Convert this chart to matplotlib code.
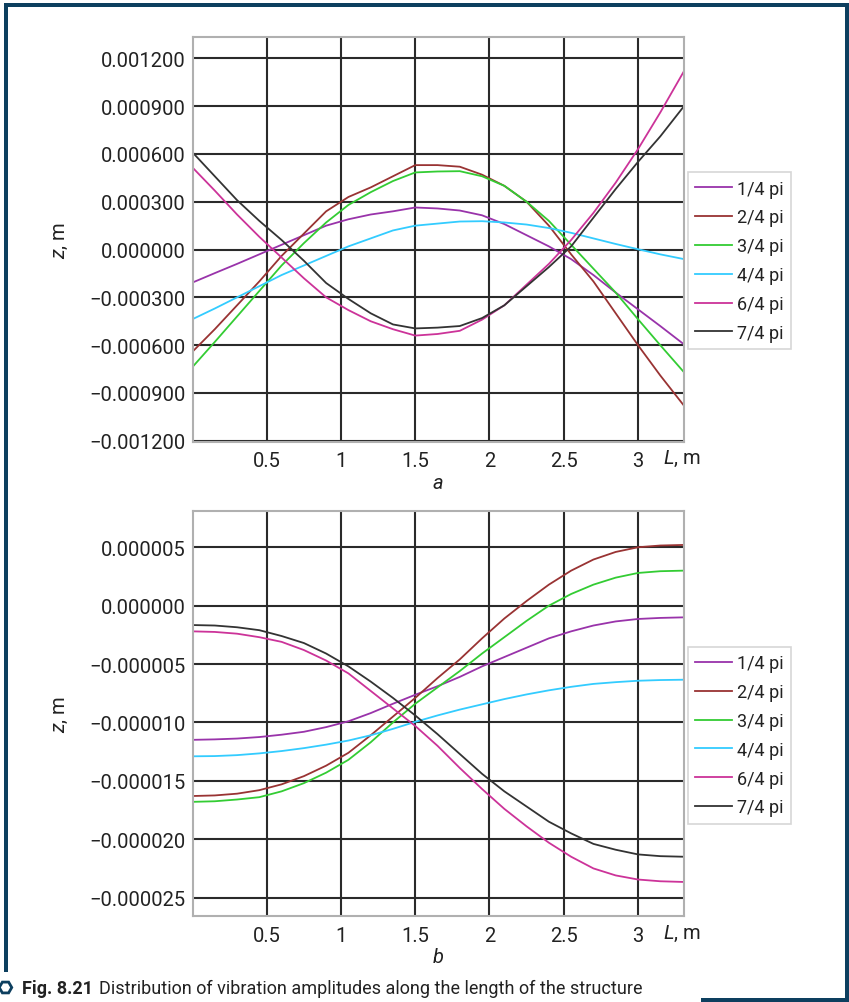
import matplotlib
matplotlib.use("Agg")
import matplotlib.pyplot as plt
from matplotlib.lines import Line2D
from matplotlib.patches import Rectangle

plt.rcParams['font.family'] = ['Roboto', 'DejaVu Sans']
plt.rcParams['mathtext.fontset'] = 'custom'
plt.rcParams['mathtext.it'] = 'Roboto:italic'
plt.rcParams['mathtext.rm'] = 'Roboto'

# distance along the structure, m
x = [0, 0.15, 0.3, 0.45, 0.6, 0.75, 0.9, 1.05, 1.2, 1.35, 1.5, 1.65,
     1.8, 1.95, 2.1, 2.25, 2.4, 2.55, 2.7, 2.85, 3.0, 3.15, 3.31]

labels = ["1/4 pi", "2/4 pi", "3/4 pi", "4/4 pi", "6/4 pi", "7/4 pi"]
colors = ["#9933aa", "#993333", "#33cc33", "#33ccff", "#cc3399", "#333333"]

# panel a, z in m
a_14 = [-0.000207, -0.000148, -0.00009, -0.00003, 0.00003, 0.00009, 0.00015, 0.00019,
        0.00022, 0.00024, 0.000264, 0.000258, 0.000245, 0.000215, 0.00016, 0.00009,
        0.00002, -0.00006, -0.00016, -0.00027, -0.000375, -0.00048, -0.000595]
a_24 = [-0.000641, -0.0005, -0.00035, -0.0002, -0.00004, 0.0001, 0.00024, 0.00033,
        0.00039, 0.00046, 0.00053, 0.00053, 0.00052, 0.00047, 0.0004, 0.0003,
        0.00015, -0.00003, -0.0002, -0.0004, -0.0006, -0.00079, -0.00098]
a_34 = [-0.000737, -0.00058, -0.00042, -0.00026, -0.0001, 0.00004, 0.00017, 0.00028,
        0.00036, 0.00043, 0.000484, 0.00049, 0.000492, 0.00046, 0.0004, 0.0003,
        0.00018, 0.00003, -0.00012, -0.00027, -0.000437, -0.0006, -0.00077]
a_44 = [-0.000437, -0.00037, -0.0003, -0.00023, -0.00016, -0.0001, -0.00004, 0.00002,
        0.00007, 0.00012, 0.00015, 0.000163, 0.000176, 0.000178, 0.00017, 0.000157,
        0.000135, 0.000105, 0.00007, 0.000035, 0.000002, -0.00003, -0.00006]
a_64 = [0.000515, 0.00037, 0.00022, 0.00008, -0.00005, -0.00018, -0.0003, -0.00038,
        -0.00045, -0.0005, -0.00054, -0.00053, -0.00051, -0.00044, -0.00035, -0.00022,
        -0.00009, 0.00006, 0.00023, 0.00042, 0.00063, 0.00086, 0.00112]
a_74 = [0.00061, 0.00046, 0.00031, 0.00018, 0.00006, -0.00007, -0.00021, -0.00031,
        -0.0004, -0.00047, -0.000495, -0.00049, -0.00048, -0.00043, -0.00035, -0.00023,
        -0.00011, 0.00002, 0.0002, 0.00038, 0.00055, 0.00071, 0.0009]

# panel b, z in micrometres (scaled to m below)
b_14 = [-11.49, -11.45, -11.38, -11.25, -11.05, -10.8, -10.4, -9.9, -9.2, -8.4, -7.63,
        -6.9, -6.1, -5.2, -4.4, -3.6, -2.8, -2.2, -1.7, -1.35, -1.14, -1.05, -1.0]
b_24 = [-16.3, -16.25, -16.1, -15.8, -15.3, -14.6, -13.7, -12.6, -11.1, -9.5, -7.9,
        -6.2, -4.6, -2.8, -1.1, 0.4, 1.8, 3.0, 3.95, 4.6, 5.0, 5.15, 5.2]
b_34 = [-16.8, -16.75, -16.6, -16.4, -15.9, -15.2, -14.3, -13.2, -11.7, -10.0, -8.4,
        -7.0, -5.6, -4.1, -2.7, -1.3, 0.0, 1.0, 1.8, 2.4, 2.8, 2.95, 3.0]
b_44 = [-12.9, -12.88, -12.8, -12.65, -12.45, -12.2, -11.9, -11.55, -11.1, -10.55, -9.95,
        -9.4, -8.9, -8.45, -8.0, -7.6, -7.25, -6.95, -6.7, -6.55, -6.43, -6.37, -6.34]
b_64 = [-2.2, -2.25, -2.4, -2.7, -3.1, -3.8, -4.7, -5.8, -7.3, -8.8, -10.3,
        -12.0, -13.9, -15.7, -17.4, -18.9, -20.3, -21.5, -22.5, -23.1, -23.45, -23.6, -23.66]
b_74 = [-1.66, -1.7, -1.85, -2.1, -2.6, -3.2, -4.1, -5.2, -6.5, -7.9, -9.4,
        -11.0, -12.7, -14.4, -15.9, -17.2, -18.5, -19.5, -20.4, -20.9, -21.3, -21.45, -21.5]

x_ticks = [0.5, 1, 1.5, 2, 2.5, 3]
x_ticklabels = ["0.5", "1", "1.5", "2", "2.5", "3"]
a_yticks = [-0.0012, -0.0009, -0.0006, -0.0003, 0.0, 0.0003, 0.0006, 0.0009, 0.0012]
b_yticks = [-25e-6, -20e-6, -15e-6, -10e-6, -5e-6, 0.0, 5e-6]

W, H = 849, 1003
fig = plt.figure(figsize=(W / 100, H / 100), dpi=100)
TXT = "#222222"


def fx(px):
    return px / W


def fy(py):
    return 1 - py / H


def fmt(v):
    s = f"{v:.6f}"
    if v < 0:
        s = "\u2212" + s[1:]
    return s


def panel(rect, series, yticks, ylim, letter, scale=1.0):
    ax = fig.add_axes(rect)
    for ys, lab, c in zip(series, labels, colors):
        ax.plot(x, [v * scale for v in ys], color=c, lw=1.3, label=lab)
    ax.set_xlim(0, 3.31)
    ax.set_ylim(*ylim)
    ax.set_xticks(x_ticks)
    ax.set_xticklabels(x_ticklabels)
    ax.set_yticks(yticks)
    ax.set_yticklabels([fmt(v) for v in yticks])
    ax.grid(True, color="#2a2a2a", lw=1.5)
    ax.set_axisbelow(True)
    ax.tick_params(length=0, labelsize=14.5, colors=TXT, pad=5)
    ax.tick_params(axis="x", pad=7)
    for sp in ax.spines.values():
        sp.set_color("#b0b0b0")
        sp.set_linewidth(1.5)
    ax.set_ylabel(r"$\mathit{z}$, m", fontsize=14.5, color=TXT, labelpad=14)
    ax.text(3.17, -0.015, r"$\mathit{L}$, m", transform=ax.get_xaxis_transform(),
            fontsize=14.5, color=TXT, va="top", ha="left")
    ax.text(0.5, -0.1, letter, transform=ax.transAxes, fontsize=14.5,
            style="italic", color=TXT, ha="center", va="center")
    leg = ax.legend(loc="center left", bbox_to_anchor=(1.0, 0.447), fontsize=13,
                    frameon=True, fancybox=False, handlelength=2.05, handletextpad=0.3,
                    labelspacing=0.6, borderpad=0.4, borderaxespad=0.2)
    leg.get_frame().set_edgecolor("#cccccc")
    leg.get_frame().set_linewidth(1.2)
    for t in leg.get_texts():
        t.set_color(TXT)
    return ax


panel([fx(192.5), fy(442.7), fx(684) - fx(192.5), (442.7 - 37.7) / H],
      [a_14, a_24, a_34, a_44, a_64, a_74], a_yticks, (-0.001206, 0.001336), "a")
panel([fx(192.5), fy(917.3), fx(684) - fx(192.5), (917.3 - 512.3) / H],
      [b_14, b_24, b_34, b_44, b_64, b_74], b_yticks, (-26.6e-6, 8.08e-6), "b", 1e-6)

# page frame
blue = "#0d3f5f"
for px0, py0, pw, ph in [(4, 4, W - 4, 4), (4, 4, 4, 969), (845, 4, 4, 998), (701, 999, 148, 4)]:
    fig.add_artist(Rectangle((fx(px0), fy(py0 + ph)), pw / W, ph / H,
                             transform=fig.transFigure, color=blue, lw=0))

fig.add_artist(Line2D([fx(5)], [fy(988)], marker="H", markersize=9, markerfacecolor="white",
                      markeredgecolor=blue, markeredgewidth=2, transform=fig.transFigure))
t1 = fig.text(fx(22), fy(994), "Fig. 8.21", fontsize=13, fontweight="bold", color=TXT,
              va="baseline", ha="left")
renderer = fig.canvas.get_renderer()
right = t1.get_window_extent(renderer).x1
fig.text(right / W + fx(6), fy(994),
         "Distribution of vibration amplitudes along the length of the structure",
         fontsize=13, color=TXT, va="baseline", ha="left")

fig.savefig("out.png", dpi=100)
